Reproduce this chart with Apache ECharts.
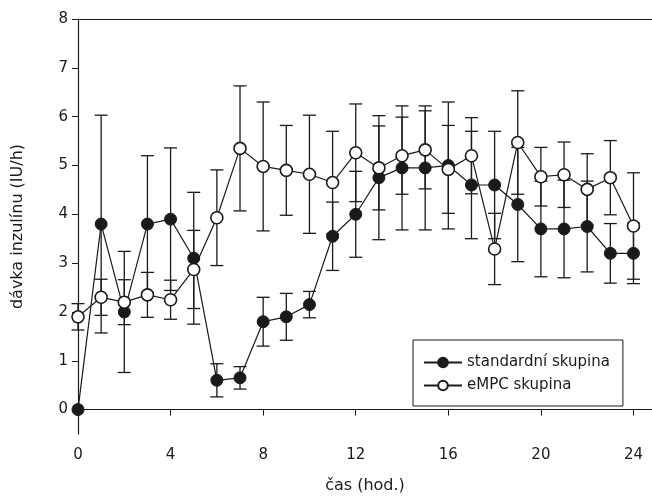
<!DOCTYPE html>
<html>
<head>
<meta charset="utf-8">
<script src="https://cdn.jsdelivr.net/npm/echarts@6/dist/echarts.min.js"></script>
<style>
  html, body { margin: 0; padding: 0; background: #fff; }
  #chart { width: 652px; height: 502px; }
</style>
</head>
<body>
<div id="chart"></div>
<script>
// hodiny 0..24
const hours = [0, 1, 2, 3, 4, 5, 6, 7, 8, 9, 10, 11, 12, 13, 14, 15, 16, 17, 18, 19, 20, 21, 22, 23, 24];
// standardní skupina - průměr a chyba
const stdMean = [0, 3.8, 2.0, 3.8, 3.9, 3.1, 0.6, 0.65, 1.8, 1.9, 2.15, 3.55, 4.0, 4.75, 4.95, 4.95, 5.0, 4.6, 4.6, 4.2, 3.7, 3.7, 3.75, 3.2, 3.2];
const stdErr = [0, 2.23, 1.24, 1.4, 1.46, 1.35, 0.34, 0.23, 0.5, 0.48, 0.27, 0.7, 0.88, 1.27, 1.27, 1.27, 1.3, 1.1, 1.1, 1.17, 0.98, 1.0, 0.93, 0.61, 0.62];
// eMPC skupina
const empcMean = [1.9, 2.3, 2.2, 2.35, 2.25, 2.87, 3.93, 5.35, 4.98, 4.9, 4.82, 4.65, 5.26, 4.95, 5.2, 5.32, 4.92, 5.2, 3.29, 5.47, 4.77, 4.81, 4.51, 4.75, 3.76];
const empcErr = [0.27, 0.37, 0.46, 0.46, 0.4, 0.8, 0.98, 1.28, 1.32, 0.92, 1.21, 1.05, 1.0, 0.86, 0.79, 0.8, 0.9, 0.78, 0.73, 1.06, 0.6, 0.67, 0.73, 0.76, 1.09];

const xTicks = [0, 4, 8, 12, 16, 20, 24];
const yTicks = [0, 1, 2, 3, 4, 5, 6, 7, 8];

const ink = '#1a1a1a';
const font = 'DejaVu Sans';

const toPoints = (mean) => hours.map((h, i) => [h, mean[i]]);
const toBars = (mean, err) =>
  hours.map((h, i) => [h, mean[i] - err[i], mean[i] + err[i]]).filter((d) => d[2] > d[1]);

// chybové úsečky s vodorovnými zakončeními
const renderErrorBar = (params, api) => {
  const top = api.coord([api.value(0), api.value(2)]);
  const bottom = api.coord([api.value(0), api.value(1)]);
  const half = 6.5;
  const style = { stroke: ink, lineWidth: 1.3 };
  return {
    type: 'group',
    children: [
      { type: 'line', shape: { x1: top[0], y1: top[1], x2: bottom[0], y2: bottom[1] }, style },
      { type: 'line', shape: { x1: top[0] - half, y1: top[1], x2: top[0] + half, y2: top[1] }, style },
      { type: 'line', shape: { x1: bottom[0] - half, y1: bottom[1], x2: bottom[0] + half, y2: bottom[1] }, style }
    ]
  };
};

const chart = echarts.init(document.getElementById('chart'));
chart.setOption({
  animation: false,
  textStyle: { fontFamily: font },
  grid: { left: 78, right: 0, top: 19, bottom: 68 },
  legend: {
    orient: 'vertical',
    left: 413,
    top: 340,
    padding: [15, 13, 13, 10],
    itemGap: 8,
    itemWidth: 38,
    itemHeight: 12,
    borderColor: ink,
    borderWidth: 1,
    backgroundColor: '#fff',
    textStyle: { fontFamily: font, fontSize: 15, color: ink },
    data: ['standardní skupina', 'eMPC skupina']
  },
  xAxis: [
    {
      type: 'value',
      min: 0,
      max: 24.8,
      name: 'čas (hod.)',
      nameLocation: 'middle',
      nameGap: 44,
      nameTextStyle: { fontFamily: font, fontSize: 16, color: ink },
      axisLine: { lineStyle: { color: ink, width: 1.2 } },
      axisTick: { customValues: xTicks, length: 6, lineStyle: { color: ink } },
      axisLabel: { customValues: xTicks, margin: 14, fontFamily: font, fontSize: 15, color: ink },
      splitLine: { show: false }
    },
    {
      type: 'value',
      position: 'top',
      min: 0,
      max: 24.8,
      axisLine: { lineStyle: { color: ink, width: 1.2 } },
      axisTick: { show: false },
      axisLabel: { show: false },
      splitLine: { show: false }
    }
  ],
  yAxis: {
    type: 'value',
    min: -0.5,
    max: 8,
    name: 'dávka inzulínu (IU/h)',
    nameLocation: 'middle',
    nameGap: 52,
    nameTextStyle: { fontFamily: font, fontSize: 16, color: ink },
    axisLine: { show: true, lineStyle: { color: ink, width: 1.2 } },
    axisTick: { show: true, customValues: yTicks, length: 6, lineStyle: { color: ink } },
    axisLabel: { customValues: yTicks, margin: 10, fontFamily: font, fontSize: 15, color: ink },
    splitLine: { show: false }
  },
  series: [
    {
      type: 'custom',
      name: 'std-err',
      renderItem: renderErrorBar,
      data: toBars(stdMean, stdErr),
      z: 1,
      silent: true
    },
    {
      type: 'custom',
      name: 'empc-err',
      renderItem: renderErrorBar,
      data: toBars(empcMean, empcErr),
      z: 1,
      silent: true
    },
    {
      type: 'line',
      name: 'standardní skupina',
      data: toPoints(stdMean),
      symbol: 'circle',
      symbolSize: 12,
      lineStyle: { color: ink, width: 1.2 },
      itemStyle: { color: ink, borderColor: ink, borderWidth: 1 },
      z: 3
    },
    {
      type: 'line',
      name: 'eMPC skupina',
      data: toPoints(empcMean),
      symbol: 'circle',
      symbolSize: 12,
      lineStyle: { color: ink, width: 1.2 },
      itemStyle: { color: '#fff', borderColor: ink, borderWidth: 1.6 },
      z: 4
    }
  ]
});
</script>
</body>
</html>
